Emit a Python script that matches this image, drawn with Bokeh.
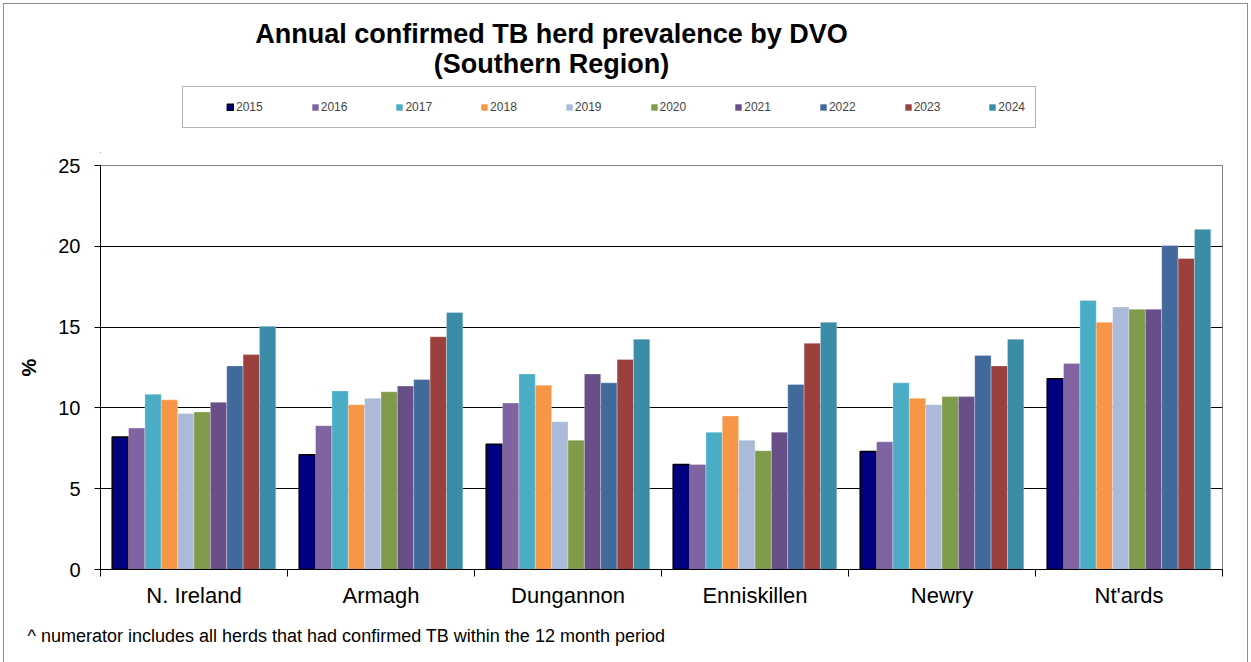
from bokeh.plotting import figure
from bokeh.layouts import column
from bokeh.models import (FixedTicker, Legend, LegendItem, Label, Range1d, BoxAnnotation,
                          Title, InlineStyleSheet)
from bokeh.embed import file_html
from bokeh.resources import INLINE

categories = ["N. Ireland", "Armagh", "Dungannon", "Enniskillen", "Newry", "Nt'ards"]
years = ["2015", "2016", "2017", "2018", "2019", "2020", "2021", "2022", "2023", "2024"]
v2015 = [8.2, 7.1, 7.75, 6.5, 7.3, 11.8]
v2016 = [8.75, 8.9, 10.3, 6.5, 7.9, 12.75]
v2017 = [10.85, 11.05, 12.1, 8.5, 11.55, 16.65]
v2018 = [10.5, 10.2, 11.4, 9.5, 10.6, 15.3]
v2019 = [9.65, 10.6, 9.15, 8.0, 10.2, 16.25]
v2020 = [9.75, 11.0, 8.0, 7.35, 10.7, 16.1]
v2021 = [10.35, 11.35, 12.1, 8.5, 10.7, 16.1]
v2022 = [12.6, 11.75, 11.55, 11.45, 13.25, 20.05]
v2023 = [13.3, 14.4, 13.0, 14.0, 12.6, 19.25]
v2024 = [15.05, 15.9, 14.25, 15.3, 14.25, 21.05]
series = [v2015, v2016, v2017, v2018, v2019, v2020, v2021, v2022, v2023, v2024]
colors = ["#000080", "#8064A2", "#4BACC6", "#F79646", "#AABAD8",
          "#7F9A48", "#694F87", "#41699C", "#9C403E", "#3B8CA6"]
title_lines = ["Annual confirmed TB herd prevalence by DVO", "(Southern Region)"]
footnote = "^ numerator includes all herds that had confirmed TB within the 12 month period"

FONT = "Liberation Sans"
W = 1251
FL, FR = 100, 1222          # frame left / right (page px)
bw = 0.0875


def xpos(j):
    return [i + 0.5 + (j - 4.5) * bw for i in range(len(categories))]


# ---------------- top: titles + legend (x/y in page pixels) ----------------
TH = 153
top = figure(width=W, height=TH, output_backend="svg", toolbar_location=None,
             x_range=Range1d(FL, FR), y_range=Range1d(0, TH))
top.axis.visible = False
top.grid.visible = False
top.outline_line_color = None
top.min_border = 0
top.min_border_left = FL
top.min_border_right = W - FR
top.extra_y_ranges = {"proxy": Range1d(1000, 2000)}
top.extra_x_ranges = {"proxy": Range1d(1000, 2000)}

for txt, yy in zip(title_lines, [TH - 33, TH - 63]):
    top.add_layout(Label(x=551, y=yy, text=txt, text_font=FONT, text_font_size="27px",
                         text_font_style="bold", text_align="center",
                         text_baseline="middle", text_color="black"))

# legend proxies: same data on off-screen ranges (never visible)
items = []
for j, (yr, vals, col) in enumerate(zip(years, series, colors)):
    if j == 0:
        r = top.vbar(x=xpos(j), top=vals, width=bw, fill_color=col,
                     line_color="black", line_width=1.5,
                     x_range_name="proxy", y_range_name="proxy")
    else:
        r = top.vbar(x=xpos(j), top=vals, width=bw, fill_color=col, line_color=None,
                     x_range_name="proxy", y_range_name="proxy")
    items.append(LegendItem(label=yr, renderers=[r]))

top.add_layout(BoxAnnotation(left=182, right=1035, bottom=TH - 127, top=TH - 86,
                             fill_color=None, fill_alpha=0, line_color="black",
                             line_width=1))
legend = Legend(items=items, orientation="horizontal", location=(226 - FL, TH - 107 - 7),
                glyph_width=8, glyph_height=8, label_standoff=2, spacing=48,
                padding=0, margin=0,
                label_text_font=FONT, label_text_font_size="12px",
                border_line_color=None, background_fill_alpha=0)
top.add_layout(legend, "center")

# ---------------- main chart ----------------
MH = 662 - TH
p = figure(width=W, height=MH, output_backend="svg", toolbar_location=None,
           x_range=Range1d(0, len(categories)), y_range=Range1d(0, 25))
p.min_border_left = FL
p.min_border_right = W - FR
p.min_border_top = 12
p.min_border_bottom = MH - 12 - 404
p.outline_line_color = "#808080"
p.background_fill_color = "white"
p.border_fill_color = "white"

for j, (yr, vals, col) in enumerate(zip(years, series, colors)):
    if j == 0:
        p.vbar(x=xpos(j), top=vals, width=bw, fill_color=col, line_color="black", line_width=1.5)
    else:
        p.vbar(x=xpos(j), top=vals, width=bw, fill_color=col, line_color="white",
               line_alpha=0.5, line_width=0.6)

p.xaxis.ticker = FixedTicker(ticks=[i + 0.5 for i in range(len(categories))],
                             minor_ticks=list(range(len(categories) + 1)))
p.xaxis.major_label_overrides = {i + 0.5: c for i, c in enumerate(categories)}
p.xaxis.major_tick_out = 0
p.xaxis.major_tick_in = 0
p.xaxis.minor_tick_out = 7
p.xaxis.minor_tick_in = 0
p.xaxis.minor_tick_line_color = "black"
p.xaxis.axis_line_color = "black"
p.xaxis.major_label_text_font = FONT
p.xaxis.major_label_text_font_size = "22px"
p.xaxis.major_label_text_color = "black"
p.xaxis.major_label_standoff = 6

p.yaxis.ticker = FixedTicker(ticks=[0, 5, 10, 15, 20, 25])
p.yaxis.major_tick_out = 6
p.yaxis.major_tick_in = 0
p.yaxis.minor_tick_line_color = None
p.yaxis.axis_line_color = "black"
p.yaxis.major_tick_line_color = "black"
p.yaxis.major_label_text_font = FONT
p.yaxis.major_label_text_font_size = "20px"
p.yaxis.major_label_text_color = "black"
p.yaxis.major_label_standoff = 14
p.yaxis.axis_label = "%"
p.yaxis.axis_label_text_font = FONT
p.yaxis.axis_label_text_font_size = "20px"
p.yaxis.axis_label_text_font_style = "bold"
p.yaxis.axis_label_text_color = "black"
p.yaxis.axis_label_standoff = 15

p.xgrid.grid_line_color = None
p.ygrid.grid_line_color = "black"
p.ygrid.grid_line_width = 1

p.add_layout(Title(text=footnote, align="left", offset=27 - FL, standoff=26,
                   text_font=FONT, text_font_size="18px", text_font_style="normal",
                   text_color="black"), "below")

frame_css = InlineStyleSheet(css="""
:host { position: relative; }
:host::after {
  content: ""; position: absolute; left: 3px; top: 3px; right: 3px; bottom: -4px;
  border: 1px solid #8c8c8c; pointer-events: none; z-index: 10;
}
""")
layout = column(top, p, spacing=0, stylesheets=[frame_css])

open("out.html", "w").write(file_html(layout, INLINE))
